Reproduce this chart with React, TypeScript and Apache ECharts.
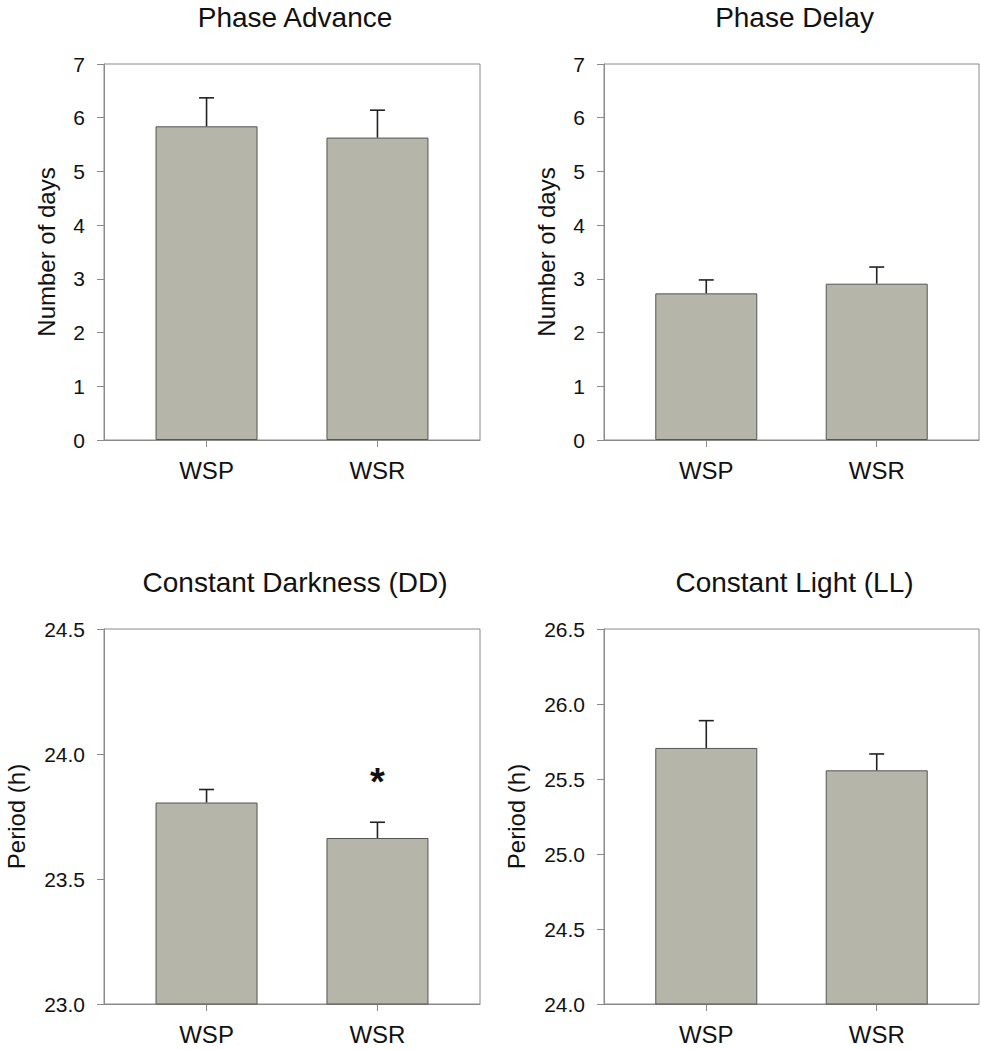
import React, { useEffect, useRef } from "react";
import * as echarts from "echarts";

const categories = ["WSP", "WSR"];
const titles = ["Phase Advance", "Phase Delay", "Constant Darkness (DD)", "Constant Light (LL)"];
const yNames = ["Number of days", "Number of days", "Period (h)", "Period (h)"];

const advanceMeans = [5.84, 5.63];
const advanceSem = [0.53, 0.51];
const delayMeans = [2.73, 2.91];
const delaySem = [0.25, 0.31];
const darkMeans = [23.806, 23.664];
const darkSem = [0.052, 0.063];
const lightMeans = [25.707, 25.558];
const lightSem = [0.182, 0.109];

const yMins = [0, 0, 23, 24];
const yMaxs = [7, 7, 24.5, 26.5];
const yIntervals = [1, 1, 0.5, 0.5];
const yDecimals = [0, 0, 1, 1];

// significance mark: panel index, category index, value
const starMark = { panel: 2, category: 1, value: 23.89, text: "*" };

const panelMeans = [advanceMeans, delayMeans, darkMeans, lightMeans];
const panelSems = [advanceSem, delaySem, darkSem, lightSem];

const FONT = "'Liberation Sans', Arial, Helvetica, sans-serif";
const AXIS_COLOR = "#8a8a8a";
const BAR_COLOR = "#b5b6a9";

const grids = [
  { left: 104, top: 64, width: 376, height: 376 },
  { left: 604, top: 64, width: 375, height: 376 },
  { left: 104, top: 629, width: 376, height: 375 },
  { left: 604, top: 629, width: 375, height: 375 },
];

export default function App() {
  const ref = useRef<HTMLDivElement>(null);

  useEffect(() => {
    document.body.style.margin = "0";
    if (!ref.current) return;
    const chart = echarts.init(ref.current, undefined, { renderer: "svg" });

    const titleCfg = titles.map((t, i) => ({
      text: t,
      left: grids[i].left + grids[i].width / 2 - 2,
      top: i < 2 ? -2 : 563,
      textAlign: "center",
      textStyle: { fontFamily: FONT, fontSize: 28, fontWeight: "normal", color: "#111" },
    }));

    const xAxes = grids.map((_, i) => ({
      type: "value",
      gridIndex: i,
      min: -0.6,
      max: 1.6,
      axisLine: { show: true, onZero: false, lineStyle: { color: AXIS_COLOR, width: 1 } },
      axisTick: {
        show: true,
        inside: false,
        length: 7,
        customValues: [0, 1],
        lineStyle: { color: AXIS_COLOR },
      },
      axisLabel: {
        show: true,
        customValues: [0, 1],
        margin: 18,
        fontFamily: FONT,
        fontSize: 24,
        color: "#111",
        formatter: (v: number) => categories[Math.round(v)] ?? "",
      },
      splitLine: { show: false },
    }));

    const yAxes = grids.map((_, i) => ({
      type: "value",
      gridIndex: i,
      min: yMins[i],
      max: yMaxs[i],
      interval: yIntervals[i],
      name: yNames[i],
      nameLocation: "middle",
      nameGap: i < 2 ? 46 : 76,
      nameRotate: 90,
      nameTextStyle: { fontFamily: FONT, fontSize: 24, color: "#111" },
      axisLine: { show: true, onZero: false, lineStyle: { color: AXIS_COLOR, width: 1 } },
      axisTick: { show: true, inside: false, length: 7, lineStyle: { color: AXIS_COLOR } },
      axisLabel: {
        margin: 19,
        fontFamily: FONT,
        fontSize: 21,
        color: "#111",
        formatter: (v: number) => v.toFixed(yDecimals[i]),
      },
      splitLine: { show: false },
    }));

    const series: any[] = [];
    panelMeans.forEach((means, i) => {
      series.push({
        type: "bar",
        xAxisIndex: i,
        yAxisIndex: i,
        barWidth: 102,
        clip: true,
        data: means.map((m, k) => [k, m]),
        itemStyle: { color: BAR_COLOR, borderColor: "#555", borderWidth: 1 },
        z: 2,
      });
      series.push({
        type: "custom",
        xAxisIndex: i,
        yAxisIndex: i,
        z: 3,
        encode: { x: 0, y: [1, 2] },
        data: means.map((m, k) => [k, m, m + panelSems[i][k]]),
        renderItem: (params: any, api: any) => {
          const x = api.value(0);
          const p0 = api.coord([x, api.value(1)]);
          const p1 = api.coord([x, api.value(2)]);
          const style = { stroke: "#222", lineWidth: 1.6 };
          return {
            type: "group",
            children: [
              { type: "line", shape: { x1: p0[0], y1: p0[1], x2: p1[0], y2: p1[1] }, style },
              { type: "line", shape: { x1: p1[0] - 7.5, y1: p1[1], x2: p1[0] + 7.5, y2: p1[1] }, style },
            ],
          };
        },
      });
    });

    series.push({
      type: "custom",
      xAxisIndex: starMark.panel,
      yAxisIndex: starMark.panel,
      z: 4,
      data: [[starMark.category, starMark.value]],
      renderItem: (params: any, api: any) => {
        const p = api.coord([api.value(0), api.value(1)]);
        return {
          type: "text",
          x: p[0],
          y: p[1],
          style: {
            text: starMark.text,
            font: `bold 38px ${FONT}`,
            fill: "#111",
            align: "center",
            verticalAlign: "middle",
          },
        };
      },
    });

    chart.setOption({
      animation: false,
      backgroundColor: "#ffffff",
      title: titleCfg,
      grid: grids.map((g) => ({ ...g, show: true, borderColor: AXIS_COLOR, borderWidth: 1, containLabel: false })),
      xAxis: xAxes,
      yAxis: yAxes,
      series,
    });

    return () => chart.dispose();
  }, []);

  return <div ref={ref} style={{ width: 981, height: 1050 }} />;
}
